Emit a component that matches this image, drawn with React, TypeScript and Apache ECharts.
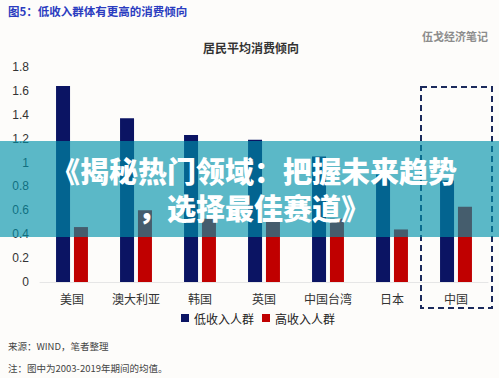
import React, { useEffect, useRef } from "react";
import * as echarts from "echarts";

const categories = ["美国", "澳大利亚", "韩国", "英国", "中国台湾", "日本", "中国"];
const lowIncome = [1.64, 1.37, 1.23, 1.19, 1.05, 0.9, 0.85];
const highIncome = [0.46, 0.6, 0.53, 0.53, 0.53, 0.44, 0.63];
const seriesNames = ["低收入人群", "高收入人群"];
const figureTitle = "图5：低收入群体有更高的消费倾向";
const chartTitle = "居民平均消费倾向";
const watermark = "伍戈经济笔记";
const sourceNote = "来源：WIND，笔者整理";
const footNote = "注：图中为2003-2019年期间的均值。";
const bannerLines = ["《揭秘热门领域：把握未来趋势", "，选择最佳赛道》"];

const FONT = "'Liberation Sans', 'Noto Sans CJK SC', sans-serif";
const CJK = "'Noto Sans CJK SC', 'Liberation Sans', sans-serif";

export default function App() {
  const ref = useRef<HTMLDivElement>(null);
  useEffect(() => {
    if (!ref.current) return;
    const chart = echarts.init(ref.current, undefined, { renderer: "svg" });
    chart.setOption({
      animation: false,
      backgroundColor: "#fdfcfa",
      textStyle: { fontFamily: FONT },
      grid: { left: 40, right: 11, top: 67, bottom: 96, containLabel: false },
      legend: {
        left: 176,
        top: 307,
        itemWidth: 8,
        itemHeight: 8,
        itemGap: 8,
        icon: "rect",
        textStyle: { fontSize: 12, color: "#222", fontFamily: CJK },
        data: seriesNames,
      },
      xAxis: {
        type: "category",
        data: categories,
        axisLine: { show: true, lineStyle: { color: "#e6e6e6", width: 1 } },
        axisTick: { show: false },
        axisLabel: { fontSize: 12, color: "#333", margin: 10, fontFamily: CJK },
      },
      yAxis: {
        type: "value",
        min: 0,
        max: 1.8,
        interval: 0.2,
        splitLine: { show: false },
        axisLine: { show: false },
        axisTick: { show: false },
        axisLabel: { fontSize: 12, color: "#333", margin: 11 },
      },
      series: [
        {
          name: seriesNames[0],
          type: "bar",
          data: lowIncome,
          barWidth: 14,
          barGap: "28%",
          itemStyle: { color: "#0b1463" },
        },
        {
          name: seriesNames[1],
          type: "bar",
          data: highIncome,
          barWidth: 14,
          itemStyle: { color: "#c00000" },
        },
      ],
      graphic: [
        {
          type: "text",
          left: 8,
          top: 5,
          z: 50,
          style: { text: figureTitle, fontSize: 11.5, fontWeight: "bold", fill: "#2b3cc0", fontFamily: CJK },
        },
        {
          type: "text",
          left: 422,
          top: 30,
          z: 50,
          style: { text: watermark, fontSize: 11, fontWeight: "bold", fill: "#8c8c8c", fontFamily: CJK },
        },
        {
          type: "text",
          left: 203,
          top: 41,
          z: 50,
          style: { text: chartTitle, fontSize: 12, fontWeight: "bold", fill: "#333", fontFamily: CJK },
        },
        {
          type: "rect",
          z: 60,
          shape: { x: 421, y: 87, width: 71, height: 221 },
          style: { fill: "none", stroke: "#1b2a5c", lineWidth: 2, lineDash: [6, 4] },
        },
        {
          type: "text",
          left: 8,
          top: 341,
          z: 50,
          style: { text: sourceNote, fontSize: 9.5, fill: "#444", fontFamily: CJK },
        },
        {
          type: "text",
          left: 8,
          top: 363,
          z: 50,
          style: { text: footNote, fontSize: 9.5, fill: "#444", fontFamily: CJK },
        },
        {
          type: "rect",
          z: 100,
          shape: { x: 0, y: 141, width: 499, height: 96 },
          style: { fill: "rgba(0,145,170,0.64)" },
        },
        {
          type: "text",
          z: 101,
          x: 254,
          y: 188,
          style: {
            text: bannerLines.join("\n"),
            fontSize: 29,
            lineHeight: 37,
            fontWeight: 900,
            fill: "#ffffff",
            align: "center",
            verticalAlign: "middle",
            fontFamily: CJK,
          },
        },
      ],
    });
    return () => chart.dispose();
  }, []);
  return (
    <div
      ref={ref}
      style={{ position: "fixed", left: 0, top: 0, width: 499, height: 378 }}
    />
  );
}
